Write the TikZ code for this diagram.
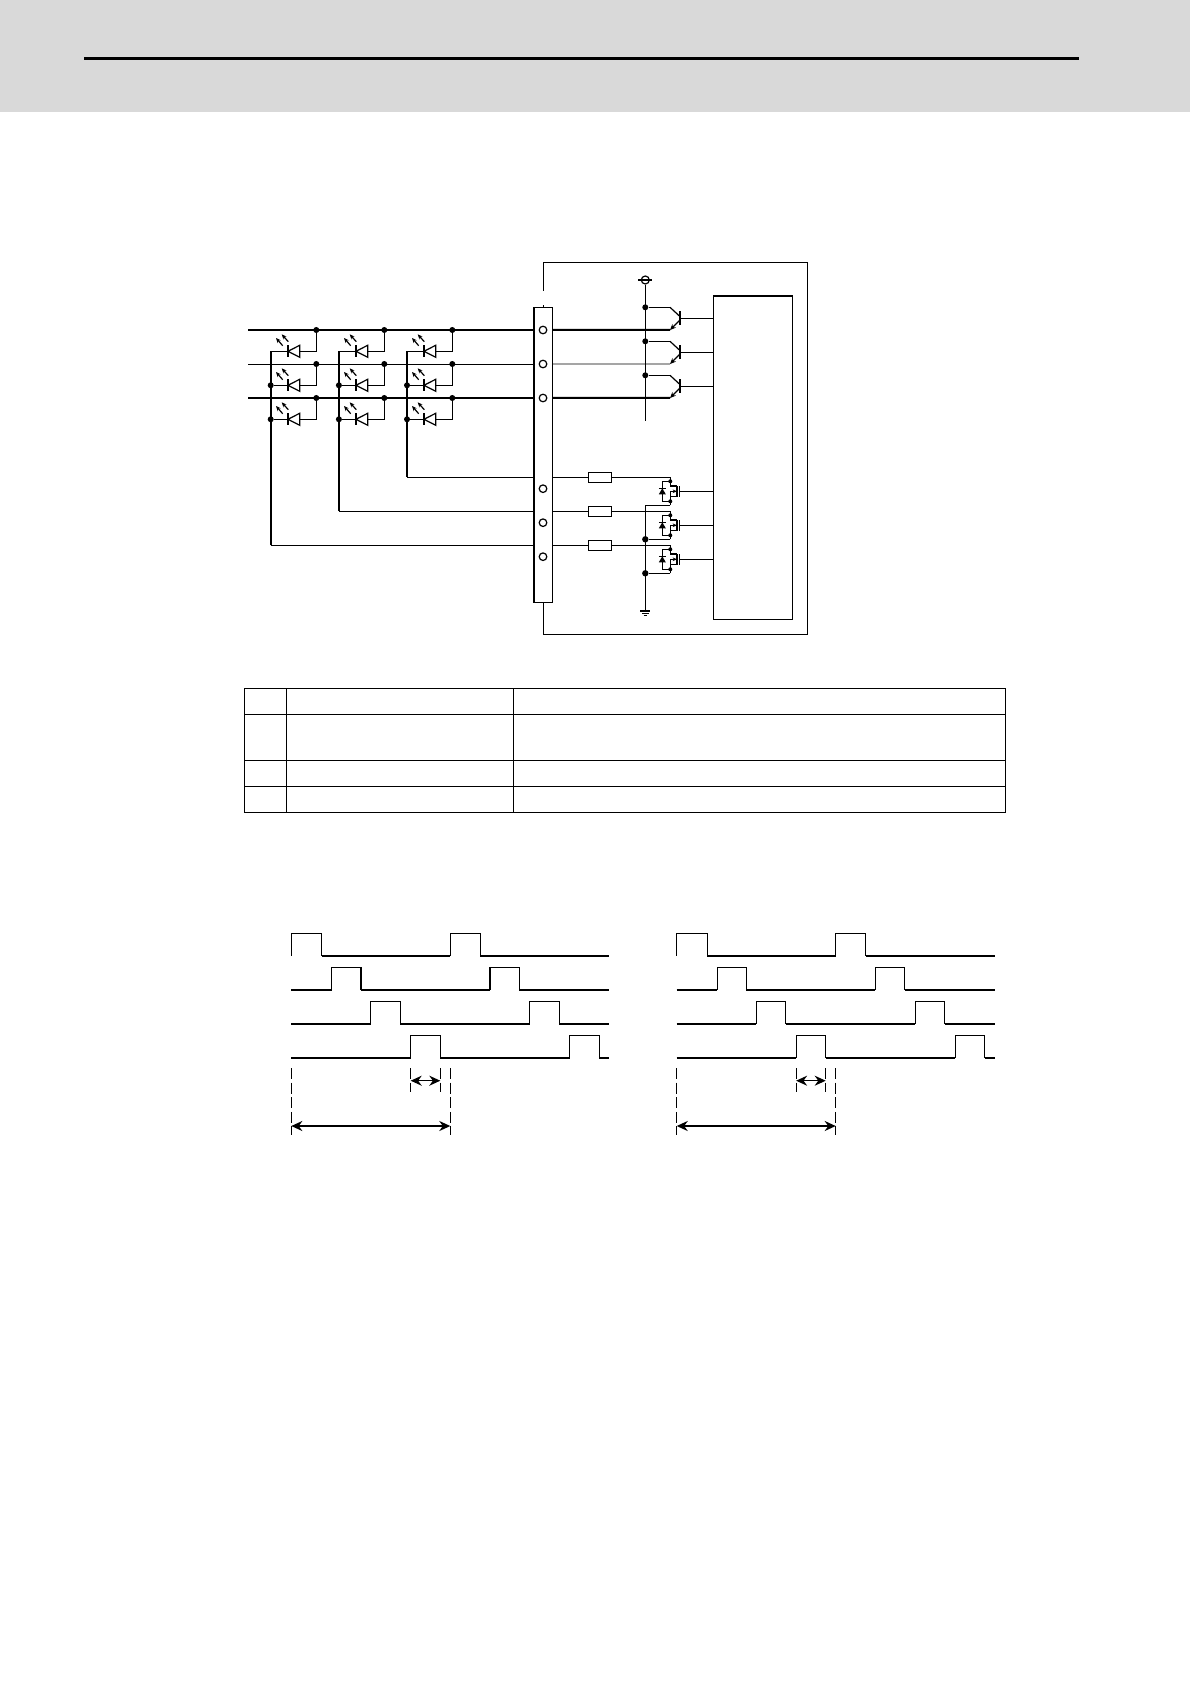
\documentclass[tikz,border=0pt]{standalone}
\usepackage{tikz}
\usetikzlibrary{arrows.meta, positioning}

\definecolor{bandgray}{HTML}{D9D9D9}

\tikzset{
    wire/.style={line width=0.6pt},
    busheavy/.style={line width=1pt},
    busthin/.style={line width=0.48pt},
    column/.style={line width=0.85pt},
    junction/.style={circle, fill, inner sep=0pt, minimum size=3pt},
    terminal/.style={circle, draw, line width=0.6pt, fill=white, inner sep=0pt, minimum size=3.8pt},
    resistor/.style={draw, line width=0.7pt, fill=white, inner sep=0pt, outer sep=0pt, minimum width=11.7pt, minimum height=5pt},
    trace/.style={line width=0.6pt},
    lowlevel/.style={line width=1pt},
    dashmark/.style={line width=0.6pt, dash pattern=on 5.5pt off 1.8pt},
    % LED with its two light arrows
    led/.pic={
        \coordinate (-l) at (0,0);
        \coordinate (-r) at (11.7,0);
        \draw[line width=0.9pt] (0,-6) -- (0,6);
        \draw[wire] (0,0) -- (11.7,-6) -- (11.7,6) -- cycle;
        \draw[wire, -{Stealth[length=2.5pt,width=2.1pt]}] (-5.3,-5.6) -- (-12,-13.3);
        \draw[wire, -{Stealth[length=2.5pt,width=2.1pt]}] (0.3,-9.6) -- (-6.3,-17);
    },
    % output transistor, origin on the base bar
    npn/.pic={
        \coordinate (-b) at (0,0);
        \coordinate (-c) at (-9.7,-11);
        \coordinate (-e) at (-9.7,11.7);
        \draw[line width=0.8pt] (0,-7) -- (0,7);
        \draw[wire] (-c) -- (0,-2);
        \draw[wire, -{Stealth[length=3pt,width=2.6pt]}] (0,2) -- (-e);
    },
    % sink transistor, origin on the gate bar
    nmos/.pic={
        \coordinate (-g) at (0,0);
        \coordinate (-d) at (-9.4,-14);
        \coordinate (-s) at (-9.4,14);
        \draw[line width=0.6pt] (0,-5.3) -- (0,5.3);
        \draw[line width=0.8pt] (-2.7,-5.3) -- (-2.7,5.3);
        \draw[wire] (-d) -- (-9.4,-5.3) -- (-2.7,-5.3);
        \draw[wire] (-2.7,5.3) -- (-9.4,5.3) -- (-s);
        \draw[wire, {Stealth[length=2.2pt,width=1.8pt]}-] (-2.7,0) -- (-9.4,0) -- (-9.4,5.3);
        \draw[wire] (-9.4,-10) -- (-17.4,-10) -- (-17.4,10) -- (-9.4,10);
        \fill (-17.4,-3) -- (-13.9,3) -- (-20.9,3) -- cycle;
        \draw[line width=0.6pt] (-20.9,-3) -- (-13.9,-3);
        \fill (-9.4,-10) circle (1pt);
        \fill (-9.4,10) circle (1pt);
    },
    % four pulse rows with their dimension marks
    timing/.pic={
        \coordinate (-a) at (119.4,1080.7);
        \coordinate (-b) at (149,1080.7);
        \coordinate (-c) at (0,1126);
        \coordinate (-d) at (159,1126);
        % row 1
        \draw[trace] (0,955.7) -- (0,933.3) -- (30.4,933.3) -- (30.4,955.7) -- (159,955.7) -- (159,933.3) -- (189,933.3) -- (189,955.7);
        \draw[lowlevel] (30.4,955.7) -- (159,955.7);
        \draw[lowlevel] (189,955.7) -- (318,955.7);
        % row 2
        \draw[trace] (40.4,989.7) -- (40.4,967.3) -- (69.7,967.3) -- (69.7,989.7);
        \draw[trace] (198.7,989.7) -- (198.7,967.3) -- (228,967.3) -- (228,989.7);
        \draw[lowlevel] (0,989.7) -- (40.4,989.7);
        \draw[lowlevel] (69.7,989.7) -- (198.7,989.7);
        \draw[lowlevel] (228,989.7) -- (318,989.7);
        % row 3
        \draw[trace] (79.4,1023.7) -- (79.4,1001.3) -- (109,1001.3) -- (109,1023.7);
        \draw[trace] (238.4,1023.7) -- (238.4,1001.3) -- (268,1001.3) -- (268,1023.7);
        \draw[lowlevel] (0,1023.7) -- (79.4,1023.7);
        \draw[lowlevel] (109,1023.7) -- (238.4,1023.7);
        \draw[lowlevel] (268,1023.7) -- (318,1023.7);
        % row 4
        \draw[trace] (119.4,1057.7) -- (119.4,1035.3) -- (149,1035.3) -- (149,1057.7);
        \draw[trace] (278.4,1057.7) -- (278.4,1035.3) -- (308,1035.3) -- (308,1057.7);
        \draw[lowlevel] (0,1057.7) -- (119.4,1057.7);
        \draw[lowlevel] (149,1057.7) -- (278.4,1057.7);
        \draw[lowlevel] (308,1057.7) -- (318,1057.7);
        % dimension marks
        \draw[dashmark] (0,1068) -- (0,1135);
        \draw[dashmark] (119.4,1068) -- (119.4,1092);
        \draw[dashmark] (149,1068) -- (149,1092);
        \draw[dashmark] (159,1068) -- (159,1135);
        \draw[wire, {Stealth[length=5.5pt,width=5pt]}-{Stealth[length=5.5pt,width=5pt]}] (-a) -- (-b);
        \draw[lowlevel, {Stealth[length=5.5pt,width=5pt]}-{Stealth[length=5.5pt,width=5pt]}] (-c) -- (-d);
    },
}

\begin{document}
\begin{tikzpicture}[x=0.5pt, y=-0.5pt]
    \useasboundingbox (0,0) rectangle (1190,1684);

    % Page header band
    \fill[bandgray] (0,0) rectangle (1190,112);
    \draw[line width=1.5pt] (84,58.6) -- (1079,58.6);

    % Connector block and terminals
    \node[draw, line width=0.6pt, fill=white, inner sep=0pt, outer sep=0pt, minimum width=9.35pt, minimum height=147.5pt] (CN) at (543.35,454.8) {};
    \draw[line width=1pt] (CN.north west) -- (CN.south west);
    \node[terminal] (T1) at (543,330) {};
    \node[terminal] (T2) at (543,364) {};
    \node[terminal] (T3) at (543,398) {};
    \node[terminal] (T4) at (543,488.7) {};
    \node[terminal] (T5) at (543,522.7) {};
    \node[terminal] (T6) at (543,556.7) {};

    % Unit outline, open at the connector
    \coordinate (OBa) at (543.35,290.7);
    \coordinate (OBb) at (543.35,262.3);
    \coordinate (OBc) at (807.3,262.3);
    \coordinate (OBd) at (807.3,634.3);
    \coordinate (OBe) at (543.35,634.3);
    \coordinate (OBf) at (543.35,305.5);
    \draw[wire] (OBa) -- (OBb) -- (OBc) -- (OBd) -- (OBe) -- (CN.south);
    \draw[wire] (OBf) -- (CN.north);

    % Control block
    \node[draw, line width=0.6pt, inner sep=0pt, outer sep=0pt, minimum width=39.5pt, minimum height=161.8pt] (IC) at (752.8,457.5) {};
    \draw[line width=1pt] (IC.north west) -- (IC.north east);

    % Common lines
    \coordinate (BLa) at (248,330);
    \coordinate (BLb) at (248,364);
    \coordinate (BLc) at (248,398);
    \draw[busheavy] (BLa) -- (CN.west |- T1);
    \draw[busthin] (BLb) -- (CN.west |- T2);
    \draw[busheavy] (BLc) -- (CN.west |- T3);

    % LEDs
    \pic (Dia) at (288,351.3) {led};
    \pic (Dib) at (288,385.3) {led};
    \pic (Dic) at (288,419.3) {led};
    \pic (Dja) at (356,351.3) {led};
    \pic (Djb) at (356,385.3) {led};
    \pic (Djc) at (356,419.3) {led};
    \pic (Dka) at (424,351.3) {led};
    \pic (Dkb) at (424,385.3) {led};
    \pic (Dkc) at (424,419.3) {led};

    % Junctions on the common lines
    \node[junction] (Jia) at (316.3,330) {};
    \node[junction] (Jib) at (316.3,364) {};
    \node[junction] (Jic) at (316.3,398) {};
    \node[junction] (Jja) at (384.3,330) {};
    \node[junction] (Jjb) at (384.3,364) {};
    \node[junction] (Jjc) at (384.3,398) {};
    \node[junction] (Jka) at (452.3,330) {};
    \node[junction] (Jkb) at (452.3,364) {};
    \node[junction] (Jkc) at (452.3,398) {};
    \draw[wire] (Dia-r) -| (Jia);
    \draw[wire] (Dib-r) -| (Jib);
    \draw[wire] (Dic-r) -| (Jic);
    \draw[wire] (Dja-r) -| (Jja);
    \draw[wire] (Djb-r) -| (Jjb);
    \draw[wire] (Djc-r) -| (Jjc);
    \draw[wire] (Dka-r) -| (Jka);
    \draw[wire] (Dkb-r) -| (Jkb);
    \draw[wire] (Dkc-r) -| (Jkc);

    % Resistors on the return lines
    \node[resistor] (R1) at (600,477.3) {};
    \node[resistor] (R2) at (600,511.3) {};
    \node[resistor] (R3) at (600,545.3) {};

    % LED columns down to the return lines
    \coordinate (Ci) at (270.7,351.3);
    \coordinate (Cj) at (338.9,351.3);
    \coordinate (Ck) at (407,351.3);
    \draw[column] (Ci) -- (Ci |- R3);
    \draw[column] (Cj) -- (Cj |- R2);
    \draw[column] (Ck) -- (Ck |- R1);
    \draw[wire] (Ci |- R3) -- (CN.west |- R3);
    \draw[wire] (Cj |- R2) -- (CN.west |- R2);
    \draw[wire] (Ck |- R1) -- (CN.west |- R1);
    \draw[wire] (Ci) -- (Dia-l);
    \draw[wire] (Cj) -- (Dja-l);
    \draw[wire] (Ck) -- (Dka-l);
    \node[junction] (Nib) at (270.7,385.3) {};
    \node[junction] (Nic) at (270.7,419.3) {};
    \node[junction] (Njb) at (338.9,385.3) {};
    \node[junction] (Njc) at (338.9,419.3) {};
    \node[junction] (Nkb) at (407,385.3) {};
    \node[junction] (Nkc) at (407,419.3) {};
    \draw[wire] (Nib) -- (Dib-l);
    \draw[wire] (Nic) -- (Dic-l);
    \draw[wire] (Njb) -- (Djb-l);
    \draw[wire] (Njc) -- (Djc-l);
    \draw[wire] (Nkb) -- (Dkb-l);
    \draw[wire] (Nkc) -- (Dkc-l);

    % Supply rail and output transistors
    \node[circle, draw, line width=0.6pt, inner sep=0pt, minimum size=4pt] (VCC) at (645.3,280) {};
    \coordinate (VCCa) at (638.3,280);
    \coordinate (VCCb) at (652.3,280);
    \coordinate (RailEnd) at (645.3,420.7);
    \draw[wire] (VCCa) -- (VCCb);
    \draw[wire] (VCC) -- (RailEnd);
    \node[junction] (Va) at (645.3,307.3) {};
    \node[junction] (Vb) at (645.3,341.3) {};
    \node[junction] (Vc) at (645.3,375.3) {};
    \pic (Qa) at (679.7,318.3) {npn};
    \pic (Qb) at (679.7,352.3) {npn};
    \pic (Qc) at (679.7,386.3) {npn};
    \draw[wire] (Va) -- (Qa-c);
    \draw[wire] (Vb) -- (Qb-c);
    \draw[wire] (Vc) -- (Qc-c);
    \draw[busheavy] (CN.east |- T1) -- (Qa-e);
    \draw[busthin] (CN.east |- T2) -- (Qb-e);
    \draw[busheavy] (CN.east |- T3) -- (Qc-e);
    \draw[wire] (Qa-b) -- (IC.west |- Qa-b);
    \draw[wire] (Qb-b) -- (IC.west |- Qb-b);
    \draw[wire] (Qc-b) -- (IC.west |- Qc-b);

    % Sink transistors and ground rail
    \pic (Ma) at (679.7,491.3) {nmos};
    \pic (Mb) at (679.7,525.3) {nmos};
    \pic (Mc) at (679.7,559.3) {nmos};
    \draw[wire] (CN.east |- R1) -- (R1) -- (Ma-d);
    \draw[wire] (CN.east |- R2) -- (R2) -- (Mb-d);
    \draw[wire] (CN.east |- R3) -- (R3) -- (Mc-d);
    \draw[wire] (Ma-g) -- (IC.west |- Ma-g);
    \draw[wire] (Mb-g) -- (IC.west |- Mb-g);
    \draw[wire] (Mc-g) -- (IC.west |- Mc-g);
    \coordinate (Ga) at (645.3,505.3);
    \coordinate (GND) at (645.3,611);
    \node[junction, minimum size=3.2pt] (Gb) at (645.3,539.3) {};
    \node[junction, minimum size=3.2pt] (Gc) at (645.3,573.3) {};
    \draw[wire] (Ma-s) -- (Ga) -- (GND);
    \draw[wire] (Mb-s) -- (Gb);
    \draw[wire] (Mc-s) -- (Gc);
    \draw[wire] (640.3,611) -- (650.3,611);
    \draw[wire] (642,613.3) -- (648.6,613.3);
    \draw[wire] (643.6,615.7) -- (647,615.7);

    % Table grid
    \draw[wire] (244.3,688.3) rectangle (1005.3,812.3);
    \draw[wire] (244.3,714.3) -- (1005.3,714.3);
    \draw[wire] (244.3,760.3) -- (1005.3,760.3);
    \draw[wire] (244.3,786.3) -- (1005.3,786.3);
    \draw[wire] (286.7,688.3) -- (286.7,812.3);
    \draw[wire] (513.3,688.3) -- (513.3,812.3);

    % Pulse diagrams
    \pic (TLeft) at (291.3,0) {timing};
    \pic (TRight) at (676.7,0) {timing};

\end{tikzpicture}
\end{document}
